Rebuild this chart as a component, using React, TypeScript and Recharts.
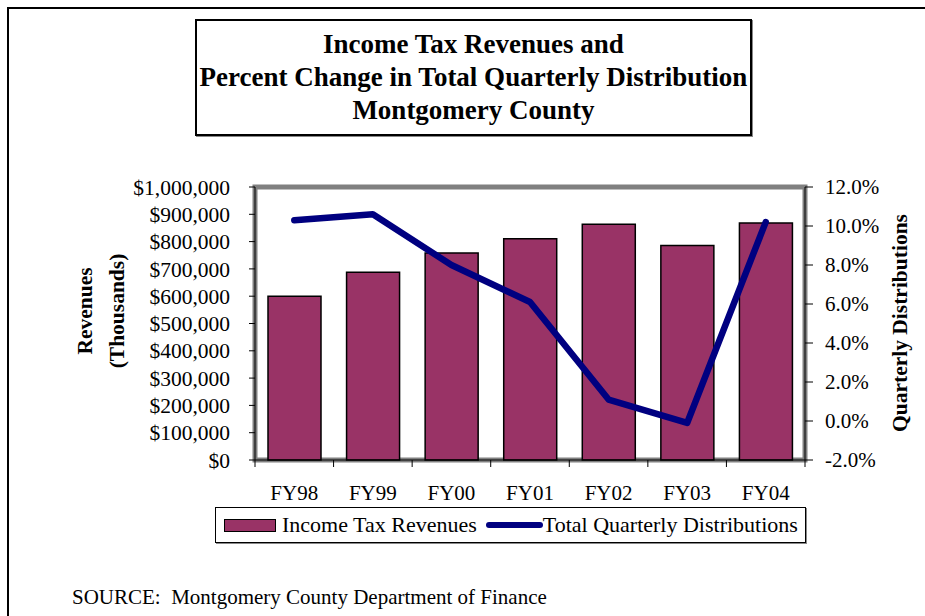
import React from "react";
import {
  ComposedChart,
  Bar,
  Line,
  XAxis,
  YAxis,
  ReferenceArea,
} from "recharts";

const categories = ["FY98", "FY99", "FY00", "FY01", "FY02", "FY03", "FY04"];
const revenues = [600000, 688000, 758000, 810000, 864000, 786000, 868000];
const distributions = [10.3, 10.6, 8.0, 6.1, 1.1, -0.1, 10.2];
const revenueTicks = [0, 100000, 200000, 300000, 400000, 500000, 600000, 700000, 800000, 900000, 1000000];
const pctTicks = [-2, 0, 2, 4, 6, 8, 10, 12];
const titleLines = [
  "Income Tax Revenues and",
  "Percent Change in Total Quarterly Distribution",
  "Montgomery County",
];

const data = categories.map((name, i) => ({
  name,
  revenue: revenues[i],
  dist: distributions[i],
}));

const SERIF = "'Liberation Serif', 'Times New Roman', serif";
const BAR = "#993366";
const LINE = "#000080";

function fmtMoney(v: number) {
  return v === 0 ? "$0" : `$${v.toLocaleString("en-US")}`;
}

function CategoryTick(props: any) {
  const { x, y, payload, index } = props;
  const off = payload?.offset ?? 0;
  return (
    <g>
      {index === 0 && <line x1={x - off} y1={y} x2={x - off} y2={y + 7} stroke="#000" />}
      <line x1={x + off} y1={y} x2={x + off} y2={y + 7} stroke="#000" />
      <text x={x} y={y + 40} textAnchor="middle" fontSize={21} fontFamily={SERIF} fill="#000">
        {payload.value}
      </text>
    </g>
  );
}

export default function App() {
  return (
    <div
      style={{
        position: "absolute",
        left: 0,
        top: 0,
        width: 925,
        height: 616,
        background: "#fff",
        fontFamily: SERIF,
        overflow: "hidden",
      }}
    >
      {/* page frame */}
      <div
        style={{
          position: "absolute",
          left: 7,
          top: 7,
          width: 940,
          height: 640,
          borderTop: "2px solid #000",
          borderLeft: "2px solid #000",
        }}
      />

      {/* title box */}
      <div
        style={{
          position: "absolute",
          left: 195,
          top: 19,
          width: 553,
          height: 113,
          border: "2px solid #000",
          boxShadow: "1px 1px 0 #888",
          display: "flex",
          flexDirection: "column",
          alignItems: "center",
          justifyContent: "center",
        }}
      >
        {titleLines.map((t) => (
          <div key={t} style={{ fontWeight: "bold", fontSize: 27, lineHeight: "33px", whiteSpace: "nowrap" }}>
            {t}
          </div>
        ))}
      </div>

      <ComposedChart
        width={925}
        height={616}
        data={data}
        margin={{ top: 187, right: 20, bottom: 126, left: 105 }}
        style={{ position: "absolute", left: 0, top: 0 }}
      >
        <XAxis
          dataKey="name"
          height={30}
          tick={<CategoryTick />}
          tickLine={false}
          tickSize={0}
          tickMargin={0}
          axisLine={{ stroke: "#000" }}
          interval={0}
        />
        <YAxis
          yAxisId="left"
          width={150}
          domain={[0, 1000000]}
          ticks={revenueTicks}
          tickFormatter={fmtMoney}
          tick={{ fill: "#000", fontSize: 21.5, fontFamily: SERIF }}
          tickSize={6}
          tickMargin={19}
          tickLine={{ stroke: "#000" }}
          axisLine={{ stroke: "#000" }}
          interval={0}
        />
        <YAxis
          yAxisId="right"
          orientation="right"
          width={100}
          domain={[-2, 12]}
          ticks={pctTicks}
          tickFormatter={(v) => `${v.toFixed(1)}%`}
          tick={{ fill: "#000", fontSize: 21, fontFamily: SERIF }}
          tickSize={8}
          tickMargin={12}
          tickLine={{ stroke: "#000" }}
          axisLine={{ stroke: "#000" }}
          interval={0}
        />
        <ReferenceArea
          yAxisId="left"
          y1={0}
          y2={1000000}
          fill="none"
          stroke="#808080"
          strokeWidth={5}
          ifOverflow="visible"
        />
        <Bar
          yAxisId="left"
          dataKey="revenue"
          fill={BAR}
          stroke="#000"
          strokeWidth={1.5}
          barSize={53}
          isAnimationActive={false}
        />
        <Line
          yAxisId="right"
          dataKey="dist"
          stroke={LINE}
          strokeWidth={6.5}
          strokeLinecap="round"
          strokeLinejoin="round"
          dot={false}
          type="linear"
          isAnimationActive={false}
        />
      </ComposedChart>

      {/* axis titles */}
      <div
        style={{
          position: "absolute",
          left: 101,
          top: 311,
          transform: "translate(-50%, -50%) rotate(-90deg)",
          fontWeight: "bold",
          fontSize: 21.5,
          lineHeight: "32px",
          textAlign: "center",
          whiteSpace: "nowrap",
        }}
      >
        <div>Revenues</div>
        <div>(Thousands)</div>
      </div>
      <div
        style={{
          position: "absolute",
          left: 900,
          top: 323,
          transform: "translate(-50%, -50%) rotate(-90deg)",
          fontWeight: "bold",
          fontSize: 21.5,
          whiteSpace: "nowrap",
        }}
      >
        Quarterly Distributions
      </div>

      {/* legend */}
      <div
        style={{
          position: "absolute",
          left: 215,
          top: 507,
          width: 589,
          height: 34,
          border: "1px solid #000",
          boxShadow: "1px 1px 0 #888",
          display: "flex",
          alignItems: "center",
          fontSize: 22,
          whiteSpace: "nowrap",
        }}
      >
        <span
          style={{
            display: "inline-block",
            width: 50,
            height: 11,
            marginLeft: 8,
            marginRight: 6,
            background: BAR,
            border: "1.5px solid #000",
          }}
        />
        <span>Income Tax Revenues</span>
        <span
          style={{
            display: "inline-block",
            width: 57,
            height: 6,
            marginLeft: 9,
            borderRadius: 3,
            background: LINE,
          }}
        />
        <span>Total Quarterly Distributions</span>
      </div>

      {/* source */}
      <div
        style={{
          position: "absolute",
          left: 72,
          top: 585,
          fontSize: 21,
          whiteSpace: "pre",
        }}
      >
        {"SOURCE:  Montgomery County Department of Finance"}
      </div>
    </div>
  );
}
